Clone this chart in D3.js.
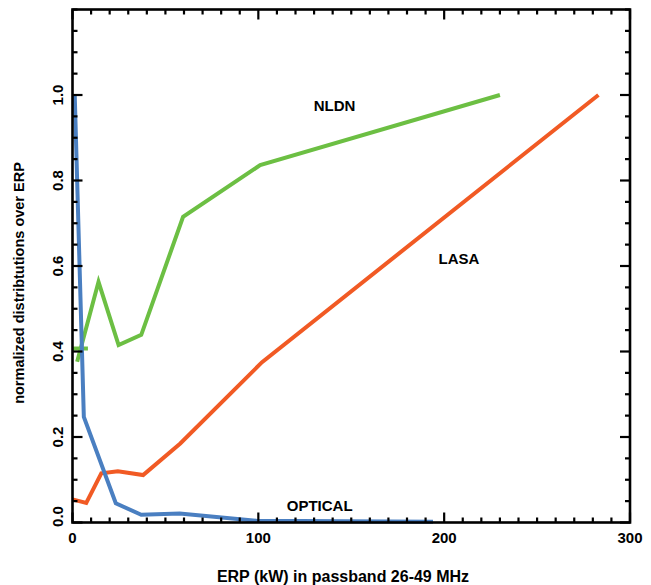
<!DOCTYPE html>
<html>
<head>
<meta charset="utf-8">
<script src="https://cdn.jsdelivr.net/npm/d3@7/dist/d3.min.js"></script>
<style>
  html, body { margin: 0; padding: 0; background: #fff; }
  svg text { font-family: "Liberation Sans", Arial, Helvetica, sans-serif; font-weight: bold; fill: #000; }
</style>
</head>
<body>
<svg id="chart" width="651" height="585"></svg>
<script>
// ERP bins (kW) and normalized distributions for each network
const nldnX   = [2.5, 14, 24.8, 37, 59.5, 101, 230];
const nldnY   = [0.376, 0.563, 0.415, 0.439, 0.715, 0.836, 1.0];
const nldnBarX = [0, 8.3];
const nldnBarY = [0.407, 0.407];

const lasaX   = [0, 7.4, 15.5, 24.4, 38, 58, 102, 283];
const lasaY   = [0.054, 0.046, 0.115, 0.120, 0.111, 0.185, 0.375, 1.0];

const opticalX = [1.2, 6.1, 23.3, 37, 57.7, 99, 194];
const opticalY = [1.0, 0.247, 0.045, 0.018, 0.021, 0.004, 0.002];

const xMajorTicks = [0, 100, 200, 300];
const yMajorTicks = [0.0, 0.2, 0.4, 0.6, 0.8, 1.0];

const seriesLabels = [
  { name: "NLDN",    x: 141, y: 0.975 },
  { name: "LASA",    x: 208, y: 0.618 },
  { name: "OPTICAL", x: 133, y: 0.04 }
];

const colors = { NLDN: "#6cbf43", LASA: "#f15a24", OPTICAL: "#4a7fc1" };

const svg = d3.select("#chart");
const plotLeft = 72.5, plotRight = 630, plotTop = 9.5, plotBottom = 522.5;

const x = d3.scaleLinear().domain([0, 300]).range([plotLeft, plotRight]);
const y = d3.scaleLinear().domain([0, 1.2]).range([plotBottom, plotTop]);

const line = d3.line().x(d => x(d[0])).y(d => y(d[1]));
const zip = (a, b) => a.map((v, i) => [v, b[i]]);

// data lines
const series = [
  { key: "NLDN", pts: zip(nldnX, nldnY) },
  { key: "NLDN", pts: zip(nldnBarX, nldnBarY) },
  { key: "LASA", pts: zip(lasaX, lasaY) },
  { key: "OPTICAL", pts: zip(opticalX, opticalY) }
];
svg.append("g").selectAll("path").data(series).join("path")
  .attr("d", d => line(d.pts))
  .attr("fill", "none")
  .attr("stroke", d => colors[d.key])
  .attr("stroke-width", 4)
  .attr("stroke-linejoin", "miter");

// axes: box with inward ticks on all four sides
const xMinor = d3.range(0, 301, 10);
const yMinor = d3.range(0, 1.2001, 0.05).map(v => +v.toFixed(2));
const isMajorX = v => xMajorTicks.includes(v);
const isMajorY = v => yMajorTicks.some(t => Math.abs(t - v) < 1e-6);

const axes = svg.append("g").attr("stroke", "#000").attr("stroke-width", 2.2);
axes.append("rect")
  .attr("x", plotLeft).attr("y", plotTop)
  .attr("width", plotRight - plotLeft).attr("height", plotBottom - plotTop)
  .attr("fill", "none").attr("stroke-width", 2.6);

axes.selectAll("line.xb").data(xMinor).join("line").attr("class", "xb")
  .attr("x1", d => x(d)).attr("x2", d => x(d))
  .attr("y1", plotBottom).attr("y2", d => plotBottom - (isMajorX(d) ? 10 : 5));
axes.selectAll("line.xt").data(xMinor).join("line").attr("class", "xt")
  .attr("x1", d => x(d)).attr("x2", d => x(d))
  .attr("y1", plotTop).attr("y2", d => plotTop + (isMajorX(d) ? 10 : 5));
axes.selectAll("line.yl").data(yMinor).join("line").attr("class", "yl")
  .attr("y1", d => y(d)).attr("y2", d => y(d))
  .attr("x1", plotLeft).attr("x2", d => plotLeft + (isMajorY(d) ? 10 : 5));
axes.selectAll("line.yr").data(yMinor).join("line").attr("class", "yr")
  .attr("y1", d => y(d)).attr("y2", d => y(d))
  .attr("x1", plotRight).attr("x2", d => plotRight - (isMajorY(d) ? 10 : 5));

// tick labels
svg.append("g").selectAll("text").data(xMajorTicks).join("text")
  .attr("x", d => x(d)).attr("y", 543)
  .attr("text-anchor", "middle").attr("font-size", 15)
  .text(d => d);

svg.append("g").selectAll("text").data(yMajorTicks).join("text")
  .attr("transform", d => `translate(63,${y(d) - (d === 0 ? 6 : 0)}) rotate(-90)`)
  .attr("text-anchor", "middle").attr("font-size", 15)
  .text(d => d.toFixed(1));

// axis titles
svg.append("text")
  .attr("x", 343).attr("y", 582)
  .attr("text-anchor", "middle").attr("font-size", 16)
  .text("ERP (kW) in passband 26-49 MHz");

svg.append("text")
  .attr("transform", "translate(24,283) rotate(-90)")
  .attr("text-anchor", "middle").attr("font-size", 14.5)
  .text("normalized distribtutions over ERP");

// series labels
svg.append("g").selectAll("text").data(seriesLabels).join("text")
  .attr("x", d => x(d.x)).attr("y", d => y(d.y) + 5.5)
  .attr("text-anchor", "middle").attr("font-size", 15)
  .text(d => d.name);
</script>
</body>
</html>
